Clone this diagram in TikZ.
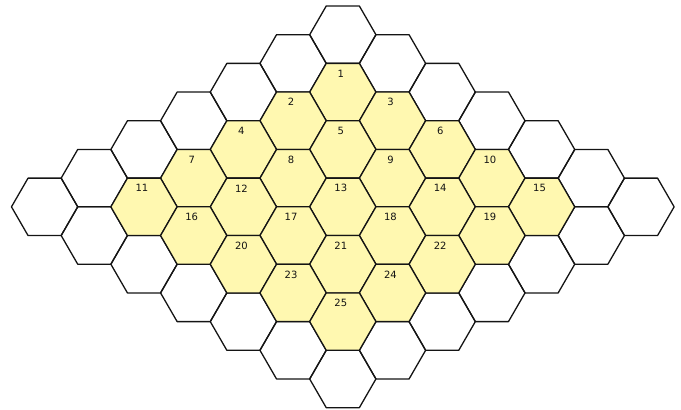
\documentclass[tikz,border=0pt]{standalone}
\usepackage{fontspec}
\setmainfont{DejaVu Sans}
\usetikzlibrary{shapes.geometric}
\definecolor{hexfill}{RGB}{255,248,176}
\definecolor{hexline}{RGB}{20,20,20}
\begin{document}
\begin{tikzpicture}[x=1pt,y=1pt,
  hexcell/.style={regular polygon, regular polygon sides=6, minimum size=66.26pt,
    inner sep=0pt, outer sep=0pt, draw=hexline, line width=1.3pt, line join=round},
  innercell/.style={hexcell, fill=hexfill},
  numlabel/.style={font=\fontsize{10}{12}\selectfont, inner sep=0pt, text=hexline}]
\useasboundingbox (0,0) rectangle (681,410);
\foreach \i in {0,...,6}{\foreach \j in {0,...,6}{
  \pgfmathtruncatemacro\inside{(\i>0)*(\i<6)*(\j>0)*(\j<6)}
  \ifnum\inside=0
    \node[hexcell] (h-\i-\j) at ({342.8+(\j-\i)*49.7},{375.3-(\i+\j)*28.69}) {};
  \fi
}}
\foreach \i/\j/\n in {1/1/1, 2/1/2, 1/2/3, 3/1/4, 2/2/5, 1/3/6, 4/1/7, 3/2/8, 2/3/9, 1/4/10,
  5/1/11, 4/2/12, 3/3/13, 2/4/14, 1/5/15, 5/2/16, 4/3/17, 3/4/18, 2/5/19,
  5/3/20, 4/4/21, 3/5/22, 5/4/23, 4/5/24, 5/5/25}{
  \node[innercell] (h-\i-\j) at ({342.8+(\j-\i)*49.7},{375.3-(\i+\j)*28.69}) {};
}
\foreach \i/\j/\n in {1/1/1, 2/1/2, 1/2/3, 3/1/4, 2/2/5, 1/3/6, 4/1/7, 3/2/8, 2/3/9, 1/4/10,
  5/1/11, 4/2/12, 3/3/13, 2/4/14, 1/5/15, 5/2/16, 4/3/17, 3/4/18, 2/5/19,
  5/3/20, 4/4/21, 3/5/22, 5/4/23, 4/5/24, 5/5/25}{
  \node[numlabel] (n-\n) at ([xshift=-2pt,yshift=18.5pt]h-\i-\j.center) {\n};
}
\end{tikzpicture}
\end{document}
